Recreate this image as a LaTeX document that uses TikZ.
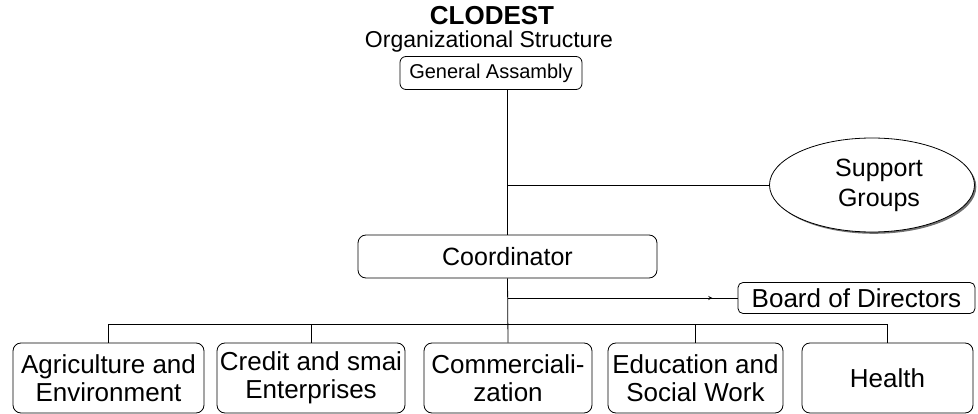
\documentclass[tikz,border=0pt]{standalone}
\usepackage{fontspec}
\setmainfont{Liberation Sans}
\usetikzlibrary{decorations.markings,shapes.geometric,shadows}
\tikzset{tickarrow/.style={
        decoration={markings,
            mark= at position #1 with {\arrow{stealth}} ,
        },
        postaction={decorate}
    }
}
\tikzset{unit/.style={draw,rounded corners=8pt,align=center,inner sep=0pt,
        font=\fontsize{26}{28}\selectfont}}

\begin{document}
\begin{tikzpicture}[x=1pt,y=-1pt,line width=.8pt]
      \useasboundingbox (0,0) rectangle (978,414);
      % title
      \node[inner sep=0pt,font=\fontsize{26}{28}\selectfont\bfseries] (title) at (492,16) {CLODEST};
      \node[inner sep=0pt,font=\fontsize{23}{26}\selectfont] (subtitle) at (489,42) {Organizational Structure};
      % nodes
      \node[unit,rounded corners=6pt,font=\fontsize{20}{24}\selectfont,
            minimum width=182pt,minimum height=33pt] (ga) at (491,73) {General Assambly};
      \node[unit,font=\fontsize{25}{28}\selectfont,
            minimum width=299pt,minimum height=43pt] (coord) at (507.5,256.5) {Coordinator};
      \node[ellipse,draw,align=center,minimum width=205pt,minimum height=94pt,
            font=\fontsize{25}{30}\selectfont,fill=white,
            drop shadow={shadow xshift=1.8pt,shadow yshift=-1.8pt,fill=black!70,opacity=.8}]
            (support) at (872,185) {\hspace*{14pt}Support\\\hspace*{14pt}Groups};
      \node[unit,rounded corners=5pt,minimum width=237pt,minimum height=31pt] (board) at (856.5,298) {Board of Directors};
      \node[unit,minimum width=191pt,minimum height=70pt] (agri) at (108.5,378) {Agriculture and\\Environment};
      \node[unit,minimum width=188pt,minimum height=70pt] (credit) at (311,378) {Credit and smai\\Enterprises};
      \node[unit,minimum width=168pt,minimum height=70pt] (comm) at (508,378) {Commerciali-\\zation};
      \node[unit,minimum width=175pt,minimum height=70pt] (edu) at (695.5,378) {Education and\\Social Work};
      \node[unit,minimum width=171pt,minimum height=70pt] (health) at (887.5,378) {Health};
      \coordinate (top) at (ga.south -| coord.north);
      \coordinate (branch) at (coord.north |- support.west);
      \coordinate (split) at (coord.south |- board.west);
      %edges
      \draw (top) -- (coord.north);
      \draw (branch) -- (support.west);
      \draw (coord.south) -- (comm.north);
      \draw[tickarrow=.89] (split) -- (board.west);
      \draw (agri.north) -- ++(0,-18) -| (health.north);
      \draw (credit.north) -- ++(0,-18);
      \draw (edu.north) -- ++(0,-18);
\end{tikzpicture}
\end{document}
